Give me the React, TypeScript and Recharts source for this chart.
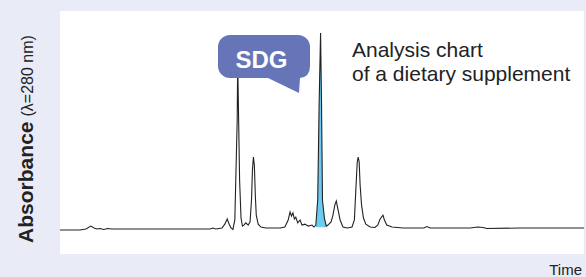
import React from "react";
import {
  Area,
  CartesianGrid,
  ComposedChart,
  Line,
  XAxis,
  YAxis,
} from "recharts";

// retention time (arbitrary minutes) and absorbance
const time = [
  0, 0.42, 0.546, 0.644, 0.714, 0.777, 0.84, 0.92, 1.0, 1.09, 1.89, 3.15, 3.21,
  3.27, 3.4, 3.46, 3.51, 3.55, 3.59, 3.63, 3.67, 3.69, 3.72, 3.73, 3.75, 3.77,
  3.8, 3.83, 3.86, 3.9, 3.95, 3.99, 4.02, 4.04, 4.06, 4.08, 4.1, 4.12, 4.16,
  4.22, 4.32, 4.62, 4.72, 4.79, 4.83, 4.86, 4.89, 4.92, 4.95, 4.99, 5.04, 5.08,
  5.14, 5.21, 5.29, 5.33, 5.37, 5.41, 5.44, 5.47, 5.49, 5.51, 5.55, 5.59, 5.626,
  5.69, 5.73, 5.77, 5.8, 5.83, 5.88, 5.94, 6.03, 6.13, 6.18, 6.21, 6.24, 6.26,
  6.28, 6.3, 6.33, 6.37, 6.42, 6.51, 6.61, 6.67, 6.72, 6.78, 6.81, 6.86, 6.97,
  7.2, 7.64, 7.7, 7.77, 8.61, 8.77, 8.88, 8.96, 9.66, 11.0,
];

const absorbance = [
  9.9, 9.9, 10.3, 11.5, 10.7, 10.3, 10.5, 10.1, 10.5, 10.3, 10.3, 10.3, 10.7,
  10.3, 10.7, 12.3, 14.4, 12.3, 10.7, 10.1, 14.0, 30.5, 55.1, 80, 55, 30.5,
  14.8, 11.5, 11.9, 12.8, 11.9, 13.2, 22.2, 34.6, 39.9, 36.6, 24.3, 16.0, 12.3,
  11.1, 10.7, 10.7, 11.1, 14.0, 17.3, 15.6, 16.9, 14.4, 15.2, 12.8, 14.0, 11.9,
  12.3, 11.5, 11.9, 11.1, 11.9, 22.2, 62.1, 90.9, 62.1, 22.2, 14.8, 11.5, 11.9,
  13.2, 16.0, 20.2, 21.8, 18.9, 14.0, 11.1, 10.7, 11.1, 14.0, 26.3, 37.9, 39.9,
  37.9, 28.4, 20.2, 14.8, 12.3, 11.1, 10.9, 11.9, 14.4, 16.0, 14.0, 11.9, 11.1,
  10.7, 10.7, 11.3, 10.7, 10.7, 11.1, 10.9, 10.5, 10.7, 10.7,
];

// highlighted peak window
const highlightFrom = 5.37;
const highlightTo = 5.59;
const topTicks = [1, 2, 3, 4, 5, 6, 7, 8, 9, 10];

const data = time.map((t, i) => ({
  t,
  abs: absorbance[i],
  hl: t >= highlightFrom && t <= highlightTo ? absorbance[i] : null,
}));

const FONT = "'Liberation Sans', Arial, sans-serif";

export default function App() {
  return (
    <div
      style={{
        position: "absolute",
        left: 0,
        top: 0,
        width: 586,
        height: 277,
        background: "#e9ecf6",
        overflow: "hidden",
        fontFamily: FONT,
      }}
    >
      <ComposedChart
        width={586}
        height={277}
        data={data}
        margin={{ top: 11, right: 2, bottom: 23, left: 60 }}
      >
        <CartesianGrid fill="#ffffff" horizontal={false} vertical={false} />
        <XAxis
          dataKey="t"
          type="number"
          domain={[0, 11]}
          height={0}
          tick={false}
          tickLine={false}
          axisLine={{ stroke: "#222", strokeWidth: 2 }}
        />
        <XAxis
          xAxisId="top"
          orientation="top"
          dataKey="t"
          type="number"
          domain={[0, 11]}
          ticks={topTicks}
          height={0}
          tickSize={2}
          axisLine={false}
          tickLine={{ stroke: "#a0a0a0" }}
          tick={() => <g />}
        />
        <YAxis
          type="number"
          domain={[0, 100]}
          width={0}
          tick={false}
          tickLine={false}
          axisLine={{ stroke: "#222", strokeWidth: 2 }}
        />
        <Area
          dataKey="hl"
          type="linear"
          baseValue={11}
          fill="#6ccbf0"
          fillOpacity={1}
          stroke="none"
          isAnimationActive={false}
        />
        <Line
          dataKey="abs"
          type="linear"
          stroke="#222"
          strokeWidth={1.1}
          dot={false}
          activeDot={false}
          isAnimationActive={false}
        />
      </ComposedChart>
      <svg
        width={586}
        height={277}
        style={{ position: "absolute", left: 0, top: 0, pointerEvents: "none" }}
      >
        <path
          d="M230 35 H298 A12 12 0 0 1 310 47 V66 Q310 77 300 78 L299 93 L268 78 H230 A12 12 0 0 1 218 66 V47 A12 12 0 0 1 230 35 Z"
          fill="#6674b8"
        />
        <text x={261.5} y={67.5} textAnchor="middle" fill="#fff" fontSize={24} fontWeight={700}>
          SDG
        </text>
        <text x={352} y={57} fill="#222" fontSize={21}>
          Analysis chart
        </text>
        <text x={352} y={81} fill="#222" fontSize={21}>
          of a dietary supplement
        </text>
        <text x={582} y={275} textAnchor="end" fill="#222" fontSize={15}>
          Time
        </text>
        <text transform="translate(33,139) rotate(-90)" textAnchor="middle" fill="#222">
          <tspan fontSize={21} fontWeight={700}>Absorbance</tspan>
          <tspan fontSize={16} dx={5}>(λ=280 nm)</tspan>
        </text>
      </svg>
    </div>
  );
}
